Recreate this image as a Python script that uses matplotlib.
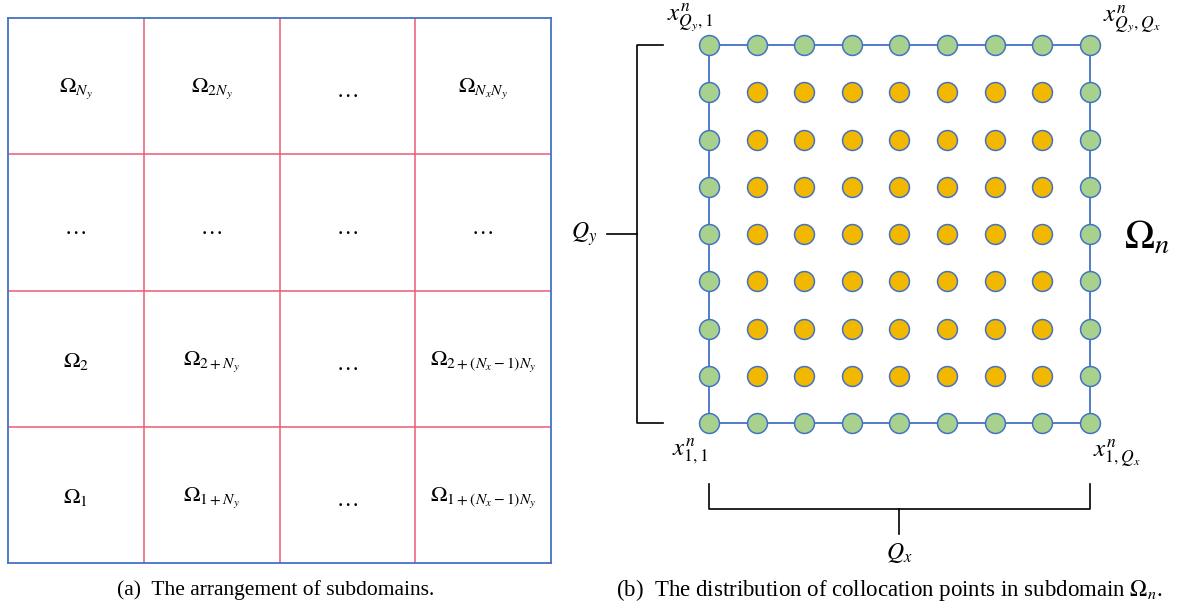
import numpy as np
import matplotlib
matplotlib.use("Agg")
import matplotlib.pyplot as plt

plt.rcParams['mathtext.fontset'] = 'stix'
plt.rcParams['font.family'] = 'Liberation Serif'

# (a) subdomain layout, rows listed top to bottom
n_x = 4
n_y = 4
cell_labels = [
    [r'$\Omega_{N_y}$', r'$\Omega_{2N_y}$', '…', r'$\Omega_{N_xN_y}$'],
    ['…', '…', '…', '…'],
    [r'$\Omega_2$', r'$\Omega_{2+N_y}$', '…', r'$\Omega_{2+(N_x-1)N_y}$'],
    [r'$\Omega_1$', r'$\Omega_{1+N_y}$', '…', r'$\Omega_{1+(N_x-1)N_y}$'],
]

# (b) collocation points in one subdomain
q_x = 9
q_y = 9
corner_labels = [r'$x^n_{Q_y,1}$', r'$x^n_{Q_y,Q_x}$', r'$x^n_{1,1}$', r'$x^n_{1,Q_x}$']
caption_a = '(a)  The arrangement of subdomains.'
caption_b = r'(b)  The distribution of collocation points in subdomain $\Omega_n$.'

blue = '#4472C4'
red = '#EC5A74'
green = '#A9D18E'
orange = '#F2B800'

W, H = 1182, 607
fig = plt.figure(figsize=(W / 100, H / 100), dpi=100)

# ---- panel (a)
ax_a = fig.add_axes([8 / W, (H - 563) / H, 543 / W, 545 / H])
ax_a.set_xlim(0, n_x)
ax_a.set_ylim(0, n_y)
ax_a.set_xticks([])
ax_a.set_yticks([])
for s in ax_a.spines.values():
    s.set_color(blue)
    s.set_linewidth(1.3)
ax_a.vlines(np.arange(1, n_x), 0, n_y, color=red, lw=1.1)
ax_a.hlines(np.arange(1, n_y), 0, n_x, color=red, lw=1.1)
for r, row in enumerate(cell_labels):
    for c, lab in enumerate(row):
        dy = 0.55 if lab == '…' else 0.52
        ax_a.text(c + 0.5, n_y - r - dy, lab, ha='center', va='center', fontsize=16)

# ---- panel (b), data units = point spacing
ax_b = fig.add_axes([560 / W, 0, 622 / W, 1])
px = 47.6
py = 47.25
ax_b.set_xlim(1 - (709 - 560) / px, 1 + (W - 709) / px)
ax_b.set_ylim(1 - (H - 423) / py, q_y + 45 / py)
ax_b.axis('off')

xs = np.arange(1, q_x + 1)
ys = np.arange(1, q_y + 1)
gx, gy = np.meshgrid(xs, ys)
edge = (gx == 1) | (gx == q_x) | (gy == 1) | (gy == q_y)

ax_b.plot([1, q_x, q_x, 1, 1], [1, 1, q_y, q_y, 1], color=blue, lw=1.3, zorder=1)
ax_b.scatter(gx[~edge], gy[~edge], s=205, facecolor=orange, edgecolor=blue, lw=1.1, zorder=2)
ax_b.scatter(gx[edge], gy[edge], s=205, facecolor=green, edgecolor=blue, lw=1.1, zorder=2)

# bracket for Q_y
bx = -0.51
ax_b.plot([0.03, bx, bx, 0.03], [q_y, q_y, 1, 1], color='black', lw=1.2)
ym = (1 + q_y) / 2
ax_b.plot([-1.14, bx], [ym, ym], color='black', lw=1.2)
ax_b.text(-1.62, ym, r'$Q_y$', ha='center', va='center', fontsize=17)

# bracket for Q_x
by = -0.82
ax_b.plot([1, 1, q_x, q_x], [-0.29, by, by, -0.29], color='black', lw=1.2)
xm = (1 + q_x) / 2
ax_b.plot([xm, xm], [by, -1.35], color='black', lw=1.2)
ax_b.text(xm, -1.75, r'$Q_x$', ha='center', va='center', fontsize=17)

corners = [(1, q_y), (q_x, q_y), (1, 1), (q_x, 1)]
offsets = [(-19, 28), (42, 26), (-19, -29), (27, -31)]
for lab, xy, off in zip(corner_labels, corners, offsets):
    ax_b.annotate(lab, xy=xy, xytext=off, textcoords='offset pixels',
                  ha='center', va='center', fontsize=18)

ax_b.annotate(r'$\Omega_n$', xy=(q_x, ym), xytext=(57, -5), textcoords='offset pixels',
              ha='center', va='center', fontsize=29)

fig.text(276 / W, 1 - 590 / H, caption_a, ha='center', va='center', fontsize=15.5)
fig.text(889 / W, 1 - 590 / H, caption_b, ha='center', va='center', fontsize=16.5)

fig.savefig('out.png', dpi=100)
